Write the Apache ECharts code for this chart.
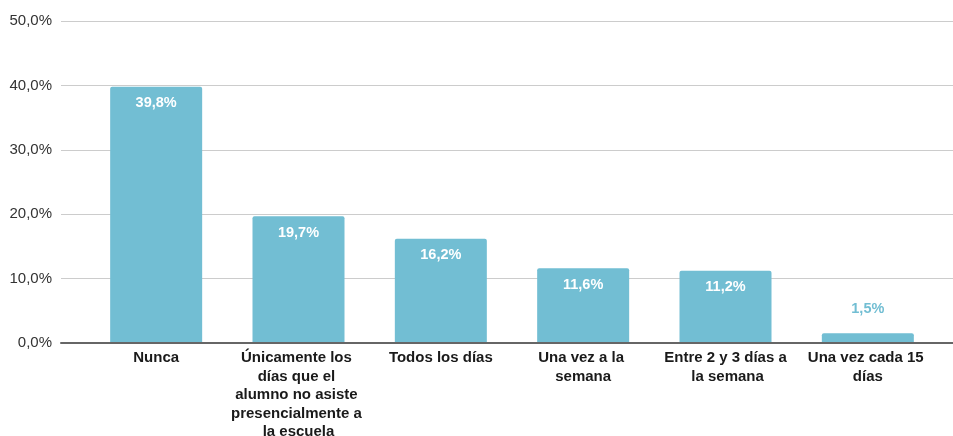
<!DOCTYPE html>
<html>
<head>
<meta charset="utf-8">
<script src="https://cdn.jsdelivr.net/npm/echarts@6/dist/echarts.min.js"></script>
<style>
  html, body { margin: 0; padding: 0; background: #fff; }
  #chart { width: 953px; height: 436px; }
</style>
</head>
<body>
<div id="chart"></div>
<script>
// categorías del eje x
const categories = [
  'Nunca',
  'Únicamente los días que el alumno no asiste presencialmente a la escuela',
  'Todos los días',
  'Una vez a la semana',
  'Entre 2 y 3 días a la semana',
  'Una vez cada 15 días'
]
// porcentajes de cada barra
const values = [39.8, 19.7, 16.2, 11.6, 11.2, 1.5]
// eje y
const yMin = 0
const yMax = 50
const yStep = 10

const barColor = '#72bed3'
const fontFamily = '"Liberation Sans", Arial, sans-serif'
const fmt = v => v.toFixed(1).replace('.', ',') + '%'

const chart = echarts.init(document.getElementById('chart'))

// barras bajas: etiqueta fuera, arriba
const seriesData = values.map(v => {
  if (v < 5) {
    return {
      value: v,
      label: { position: 'top', distance: 17, color: barColor }
    }
  }
  return v
})

const option = {
  animation: false,
  textStyle: { fontFamily },
  grid: [
    // cuadrícula ancha: líneas guía y eje y
    { left: 61, right: 0, top: 21, bottom: 93, outerBoundsMode: 'none' },
    // cuadrícula de las barras
    { left: 85, right: 14, top: 21, bottom: 93, outerBoundsMode: 'none' }
  ],
  xAxis: [
    {
      gridIndex: 0,
      type: 'category',
      data: categories,
      axisLine: { show: true, lineStyle: { color: '#666', width: 2 } },
      axisTick: { show: false },
      axisLabel: { show: false },
      z: 5
    },
    {
      gridIndex: 1,
      type: 'category',
      data: categories,
      axisLine: { show: false },
      axisTick: { show: false },
      axisLabel: {
        interval: 0,
        margin: 6,
        color: '#1a1a1a',
        fontWeight: 'bold',
        fontSize: 15,
        lineHeight: 18.5,
        width: 136,
        overflow: 'break',
        fontFamily
      }
    }
  ],
  yAxis: [
    {
      gridIndex: 0,
      type: 'value',
      min: yMin,
      max: yMax,
      interval: yStep,
      axisLine: { show: false },
      axisTick: { show: false },
      splitLine: { lineStyle: { color: '#cccccc', width: 1 } },
      axisLabel: {
        margin: 9,
        color: '#333',
        fontSize: 15,
        fontFamily,
        formatter: v => fmt(v)
      }
    },
    {
      gridIndex: 1,
      type: 'value',
      min: yMin,
      max: yMax,
      interval: yStep,
      show: false
    }
  ],
  series: [
    {
      type: 'bar',
      xAxisIndex: 1,
      yAxisIndex: 1,
      data: seriesData,
      barWidth: 92,
      itemStyle: { color: barColor, borderRadius: [2, 2, 0, 0] },
      label: {
        show: true,
        position: 'insideTop',
        distance: 9,
        color: '#fff',
        fontWeight: 'bold',
        fontSize: 14.5,
        fontFamily,
        formatter: p => fmt(p.value)
      }
    }
  ]
}

chart.setOption(option)
window.addEventListener('resize', () => chart.resize())
</script>
</body>
</html>
